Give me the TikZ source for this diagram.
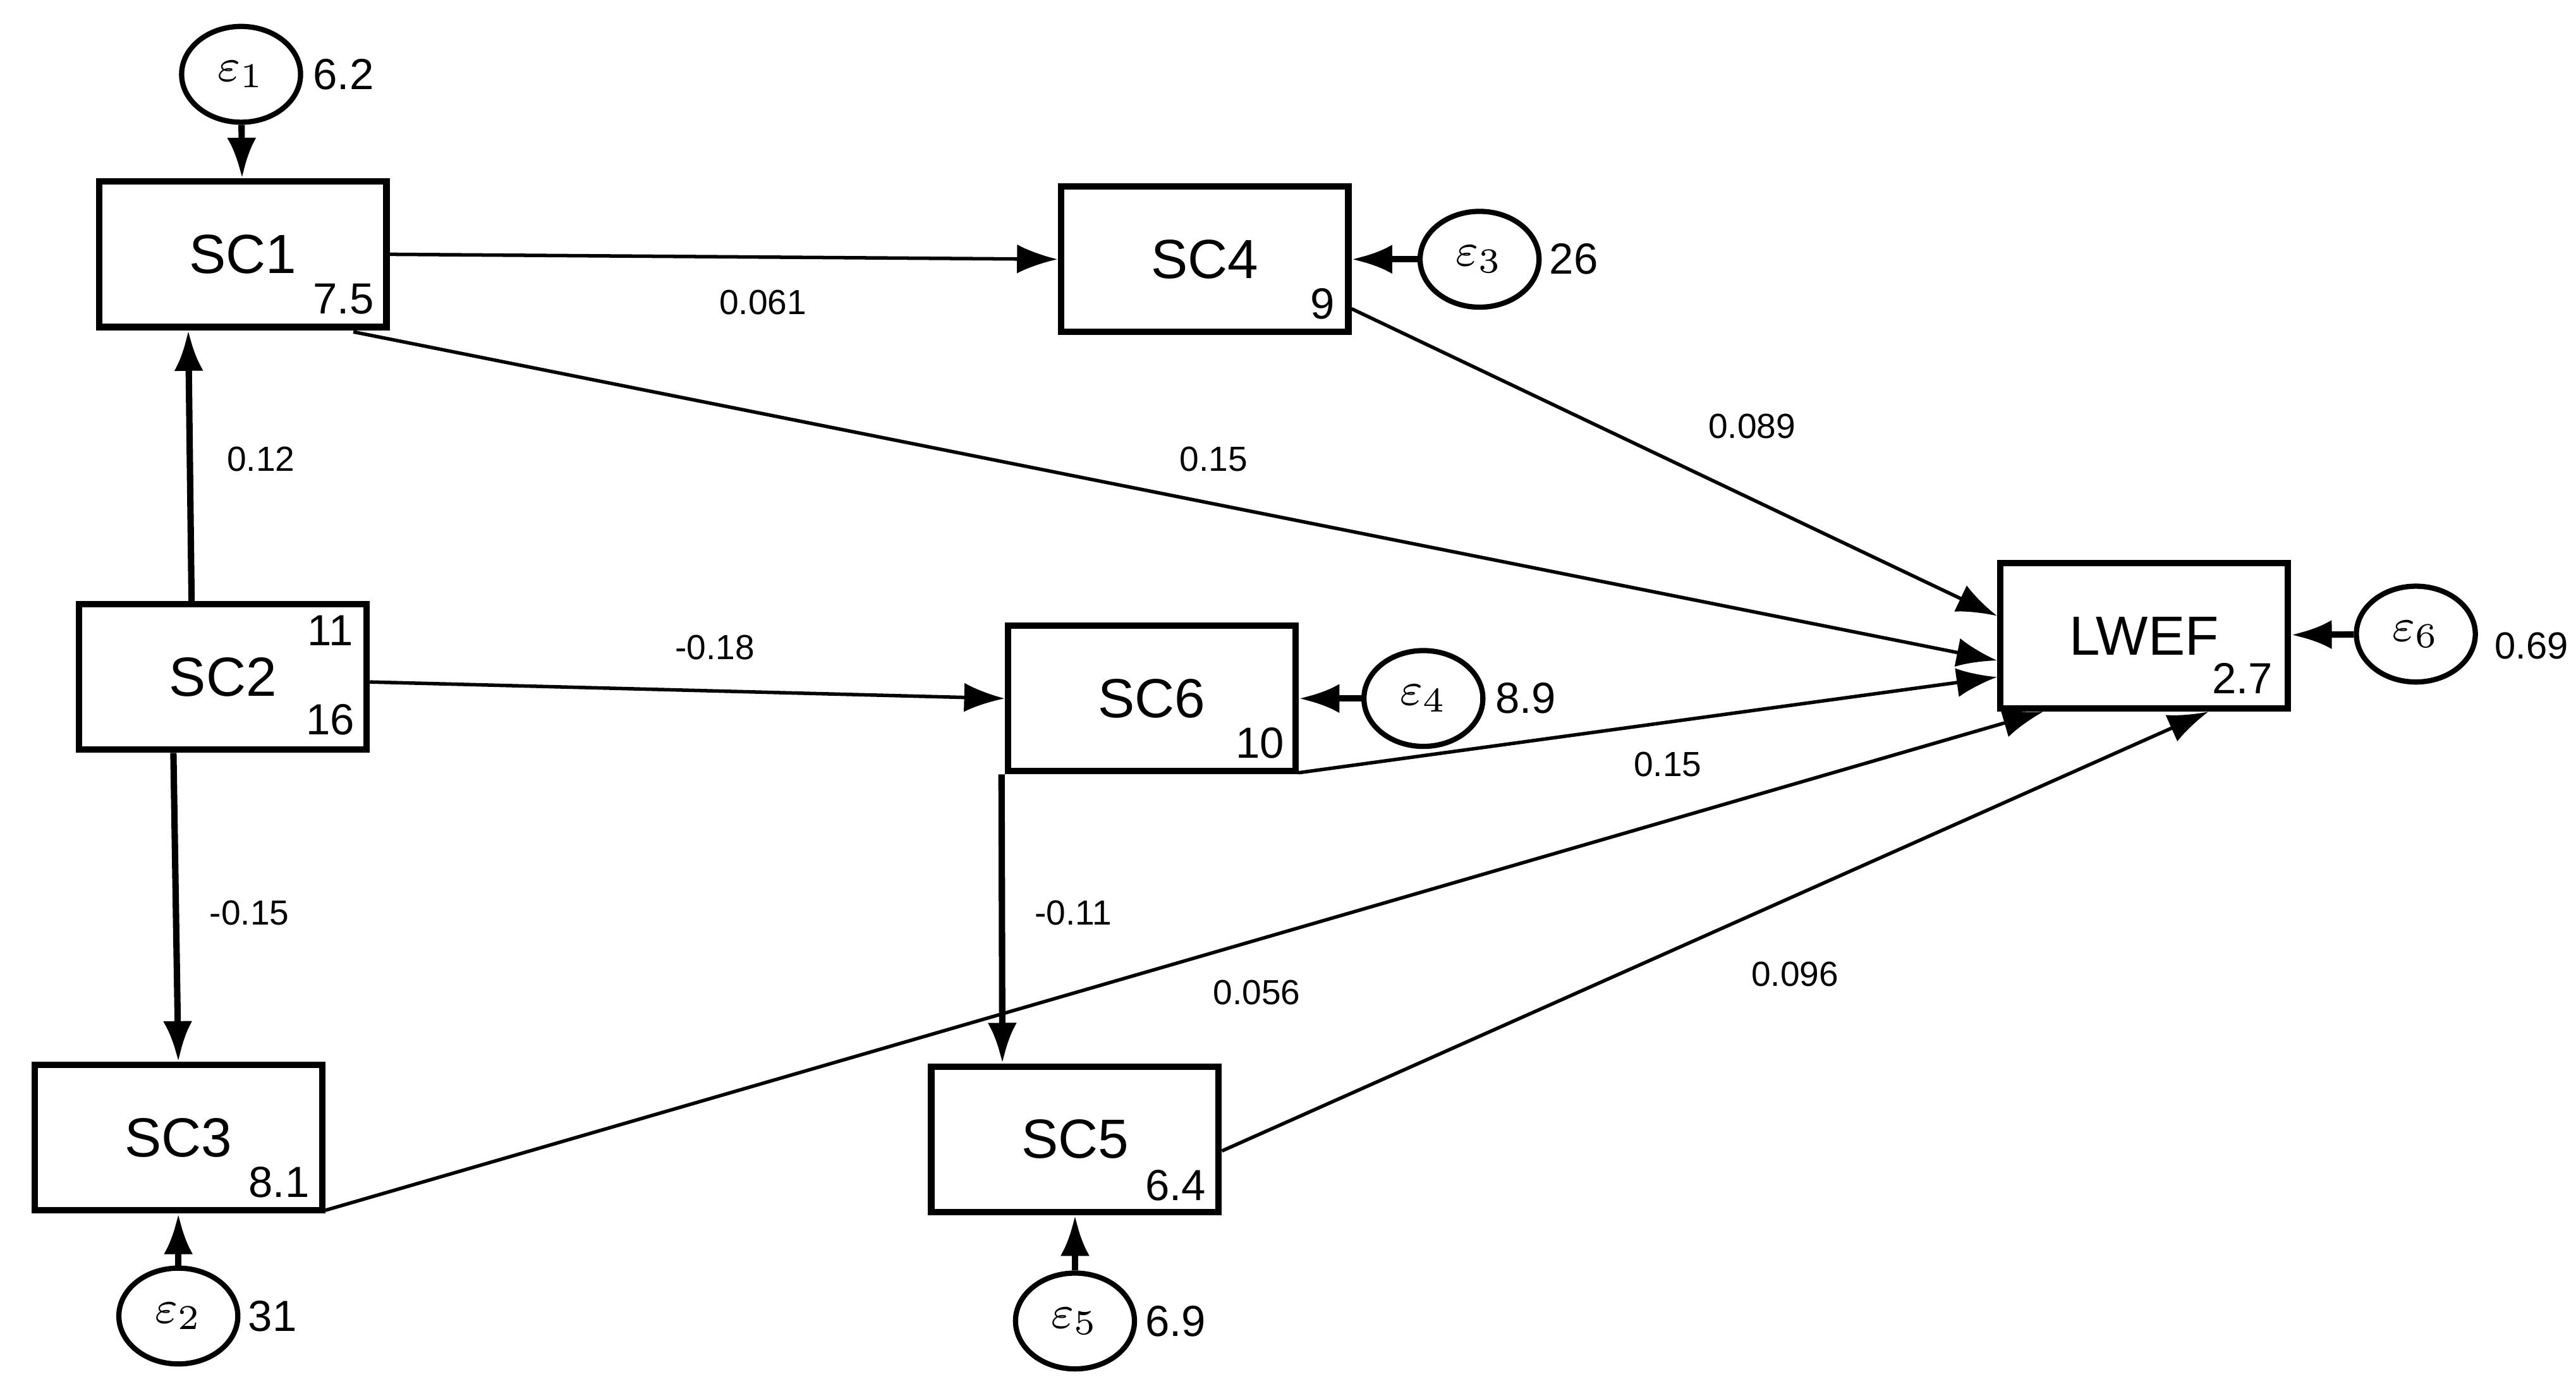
\documentclass[tikz,border=0pt]{standalone}
\usepackage{fontspec}
\setmainfont{Liberation Sans}
\usetikzlibrary{shapes.geometric,arrows.meta,calc}
\begin{document}
\begin{tikzpicture}[x=0.01cm,y=-0.01cm,
 box/.style={draw,line width=1.1pt,minimum width=1.74cm,minimum height=0.88cm,inner sep=0pt,font=\fontsize{9.5}{10}\selectfont},
 err/.style={draw,ellipse,line width=0.9pt,minimum width=0.72cm,minimum height=0.58cm,inner sep=0pt,font=\fontsize{8}{9}\selectfont},
 num/.style={font=\fontsize{7.5}{8}\selectfont,inner sep=0pt},
 lab/.style={font=\fontsize{6}{7}\selectfont,inner sep=0pt},
 arr/.style={-{Latex[length=7pt,width=5pt]},line width=0.6pt},
 tarr/.style={-{Latex[length=7pt,width=5pt]},line width=1.1pt}]
\useasboundingbox (0,0) rectangle (1560,838);
\node[box] (sc1) at (147,154) {SC1};
\node[box] (sc4) at (729.5,157) {SC4};
\node[box] (sc2) at (135,410) {SC2};
\node[box] (sc6) at (697.5,423) {SC6};
\node[box] (lwef) at (1298.5,385) {LWEF};
\node[box] (sc3) at (108,689) {SC3};
\node[box] (sc5) at (651,690) {SC5};
\node[num] (n1) at (208,181) {7.5};
\node[num] (n4) at (801,184) {9};
\node[num] (n2a) at (200,382) {11};
\node[num] (n2b) at (200,436) {16};
\node[num] (n6) at (763,450) {10};
\node[num] (nl) at (1358,411) {2.7};
\node[num] (n3) at (169,716) {8.1};
\node[num] (n5) at (712,718) {6.4};
\node[err] (e1) at (146,45) {$\varepsilon_{1}$};
\node[err] (e3) at (896,157) {$\varepsilon_{3}$};
\node[err] (e4) at (862,423) {$\varepsilon_{4}$};
\node[err] (e6) at (1463,384) {$\varepsilon_{6}$};
\node[err] (e2) at (108,797) {$\varepsilon_{2}$};
\node[err] (e5) at (651,800) {$\varepsilon_{5}$};
\node[num] (v1) at (208,45) {6.2};
\node[num] (v3) at (953,157) {26};
\node[num] (v4) at (924,423) {8.9};
\node[num,font=\fontsize{6.5}{7}\selectfont] (v6) at (1533,391) {0.69};
\node[num] (v2) at (165,797) {31};
\node[num] (v5) at (712,800) {6.9};
\draw[tarr] (e1) -- (sc1);
\draw[tarr] (e3) -- (sc4);
\draw[tarr] (e4) -- (sc6);
\draw[tarr] (e6) -- (lwef);
\draw[tarr] (e2) -- (sc3);
\draw[tarr] (e5) -- (sc5);
\draw[arr] (sc1.east) -- (sc4.west);
\draw[arr] ($(sc1.south east)+(-22,1)$) -- ($(lwef.west)+(0,15)$);
\draw[arr] ($(sc4.south east)+(0,-16)$) -- ($(lwef.north west)+(0,34)$);
\draw[tarr] ($(sc2.north west)+(70,0)$) -- ($(sc1.south west)+(56,0)$);
\draw[arr] ($(sc2.east)+(0,3)$) -- (sc6.west);
\draw[tarr] ($(sc2.south west)+(59,0)$) -- (sc3.north);
\draw[arr] ($(sc6.south east)+(0,-1)$) -- ($(lwef.west)+(0,25)$);
\draw[tarr] ($(sc6.south west)+(-2,0)$) -- ($(sc5.north west)+(45,0)$);
\draw[arr] ($(sc3.south east)+(0,-2)$) -- ($(lwef.south west)+(28,0)$);
\draw[arr] ($(sc5.east)+(0,7)$) -- ($(lwef.south west)+(128,0)$);
\node[lab] (l1) at (462,183) {0.061};
\node[lab] (l2) at (735,278) {0.15};
\node[lab] (l3) at (1061,258) {0.089};
\node[lab] (l4) at (158,278) {0.12};
\node[lab] (l5) at (433,392) {-0.18};
\node[lab] (l6) at (151,553) {-0.15};
\node[lab] (l7) at (1010,463) {0.15};
\node[lab] (l8) at (650,553) {-0.11};
\node[lab] (l9) at (761,601) {0.056};
\node[lab] (l10) at (1087,590) {0.096};
\end{tikzpicture}
\end{document}
